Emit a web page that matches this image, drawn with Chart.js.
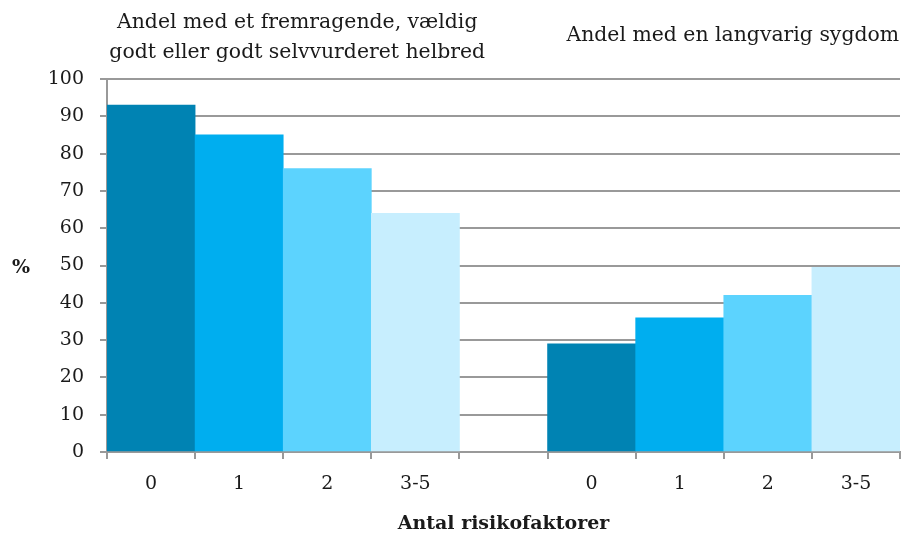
<!DOCTYPE html>
<html>
<head>
<meta charset="utf-8">
<script src="https://cdn.jsdelivr.net/npm/chart.js@4"></script>
<style>
  html, body { margin: 0; padding: 0; background: #fff; }
  #wrap { width: 909px; height: 541px; }
</style>
</head>
<body>
<div id="wrap"><canvas id="myChart" width="909" height="541"></canvas></div>
<script>
// værdier
const risikofaktorer = ['0', '1', '2', '3-5'];
const helbredGodt = [93, 85, 76, 64];
const langvarigSygdom = [29, 36, 42, 49.5];
const farver = ['#0083B3', '#00AEEF', '#5CD3FE', '#C7EEFE'];
const yTicks = [0, 10, 20, 30, 40, 50, 60, 70, 80, 90, 100];
const gruppeTitler = [
    ['Andel med et fremragende, vældig', 'godt eller godt selvvurderet helbred'],
    ['Andel med en langvarig sygdom']
];

const FONT = "'DejaVu Serif', serif";
const GRAA = '#999999';

// to grupper med en tom kategori imellem
const labels = [...risikofaktorer, '', ...risikofaktorer];
const data = [...helbredGodt, null, ...langvarigSygdom];
const bgColors = [...farver, 'rgba(0,0,0,0)', ...farver];

const titlerPlugin = {
    id: 'gruppeTitler',
    afterDraw(chart) {
        const c = chart.ctx;
        const x = chart.scales.x;
        c.save();
        c.fillStyle = '#1a1a1a';
        c.textAlign = 'center';
        c.textBaseline = 'middle';
        c.font = '20.4px ' + FONT;
        const x1 = x.getPixelForValue(1.5) + 14;
        c.fillText(gruppeTitler[0][0], x1, 23);
        c.fillText(gruppeTitler[0][1], x1, 53);
        const x2 = x.getPixelForValue(6.5) + 9;
        c.fillText(gruppeTitler[1][0], x2, 36);
        c.font = 'bold 19px ' + FONT;
        c.fillText('%', 21, 268);
        c.restore();
    }
};

const ctx = document.getElementById('myChart').getContext('2d');
const myChart = new Chart(ctx, {
    type: 'bar',
    data: {
        labels: labels,
        datasets: [{
            data: data,
            backgroundColor: bgColors,
            borderWidth: 0,
            categoryPercentage: 1.0,
            barPercentage: 1.0
        }]
    },
    options: {
        responsive: false,
        animation: false,
        layout: { padding: { top: 79, left: 10, right: 9, bottom: 0 } },
        plugins: {
            legend: { display: false },
            tooltip: { enabled: false }
        },
        scales: {
            x: {
                afterFit: (s) => { s.height = 89; },
                grid: {
                    offset: true,
                    drawOnChartArea: false,
                    drawTicks: true,
                    tickLength: 7,
                    color: GRAA,
                    lineWidth: 2
                },
                border: { color: GRAA, width: 2 },
                ticks: {
                    color: '#1a1a1a',
                    font: { family: FONT, size: 19 },
                    padding: 14,
                    maxRotation: 0,
                    autoSkip: false
                },
                title: {
                    display: true,
                    text: 'Antal risikofaktorer',
                    color: '#1a1a1a',
                    font: { family: FONT, size: 19, weight: 'bold' },
                    padding: { top: 4, bottom: 6 }
                }
            },
            y: {
                min: 0,
                max: 100,
                afterFit: (s) => { s.width = 97; },
                afterBuildTicks: (s) => { s.ticks = yTicks.map(v => ({ value: v })); },
                grid: {
                    color: GRAA,
                    lineWidth: 2,
                    tickLength: 7
                },
                border: { color: GRAA, width: 2 },
                ticks: {
                    color: '#1a1a1a',
                    font: { family: FONT, size: 19 },
                    padding: 16
                }
            }
        }
    },
    plugins: [titlerPlugin]
});
</script>
</body>
</html>
